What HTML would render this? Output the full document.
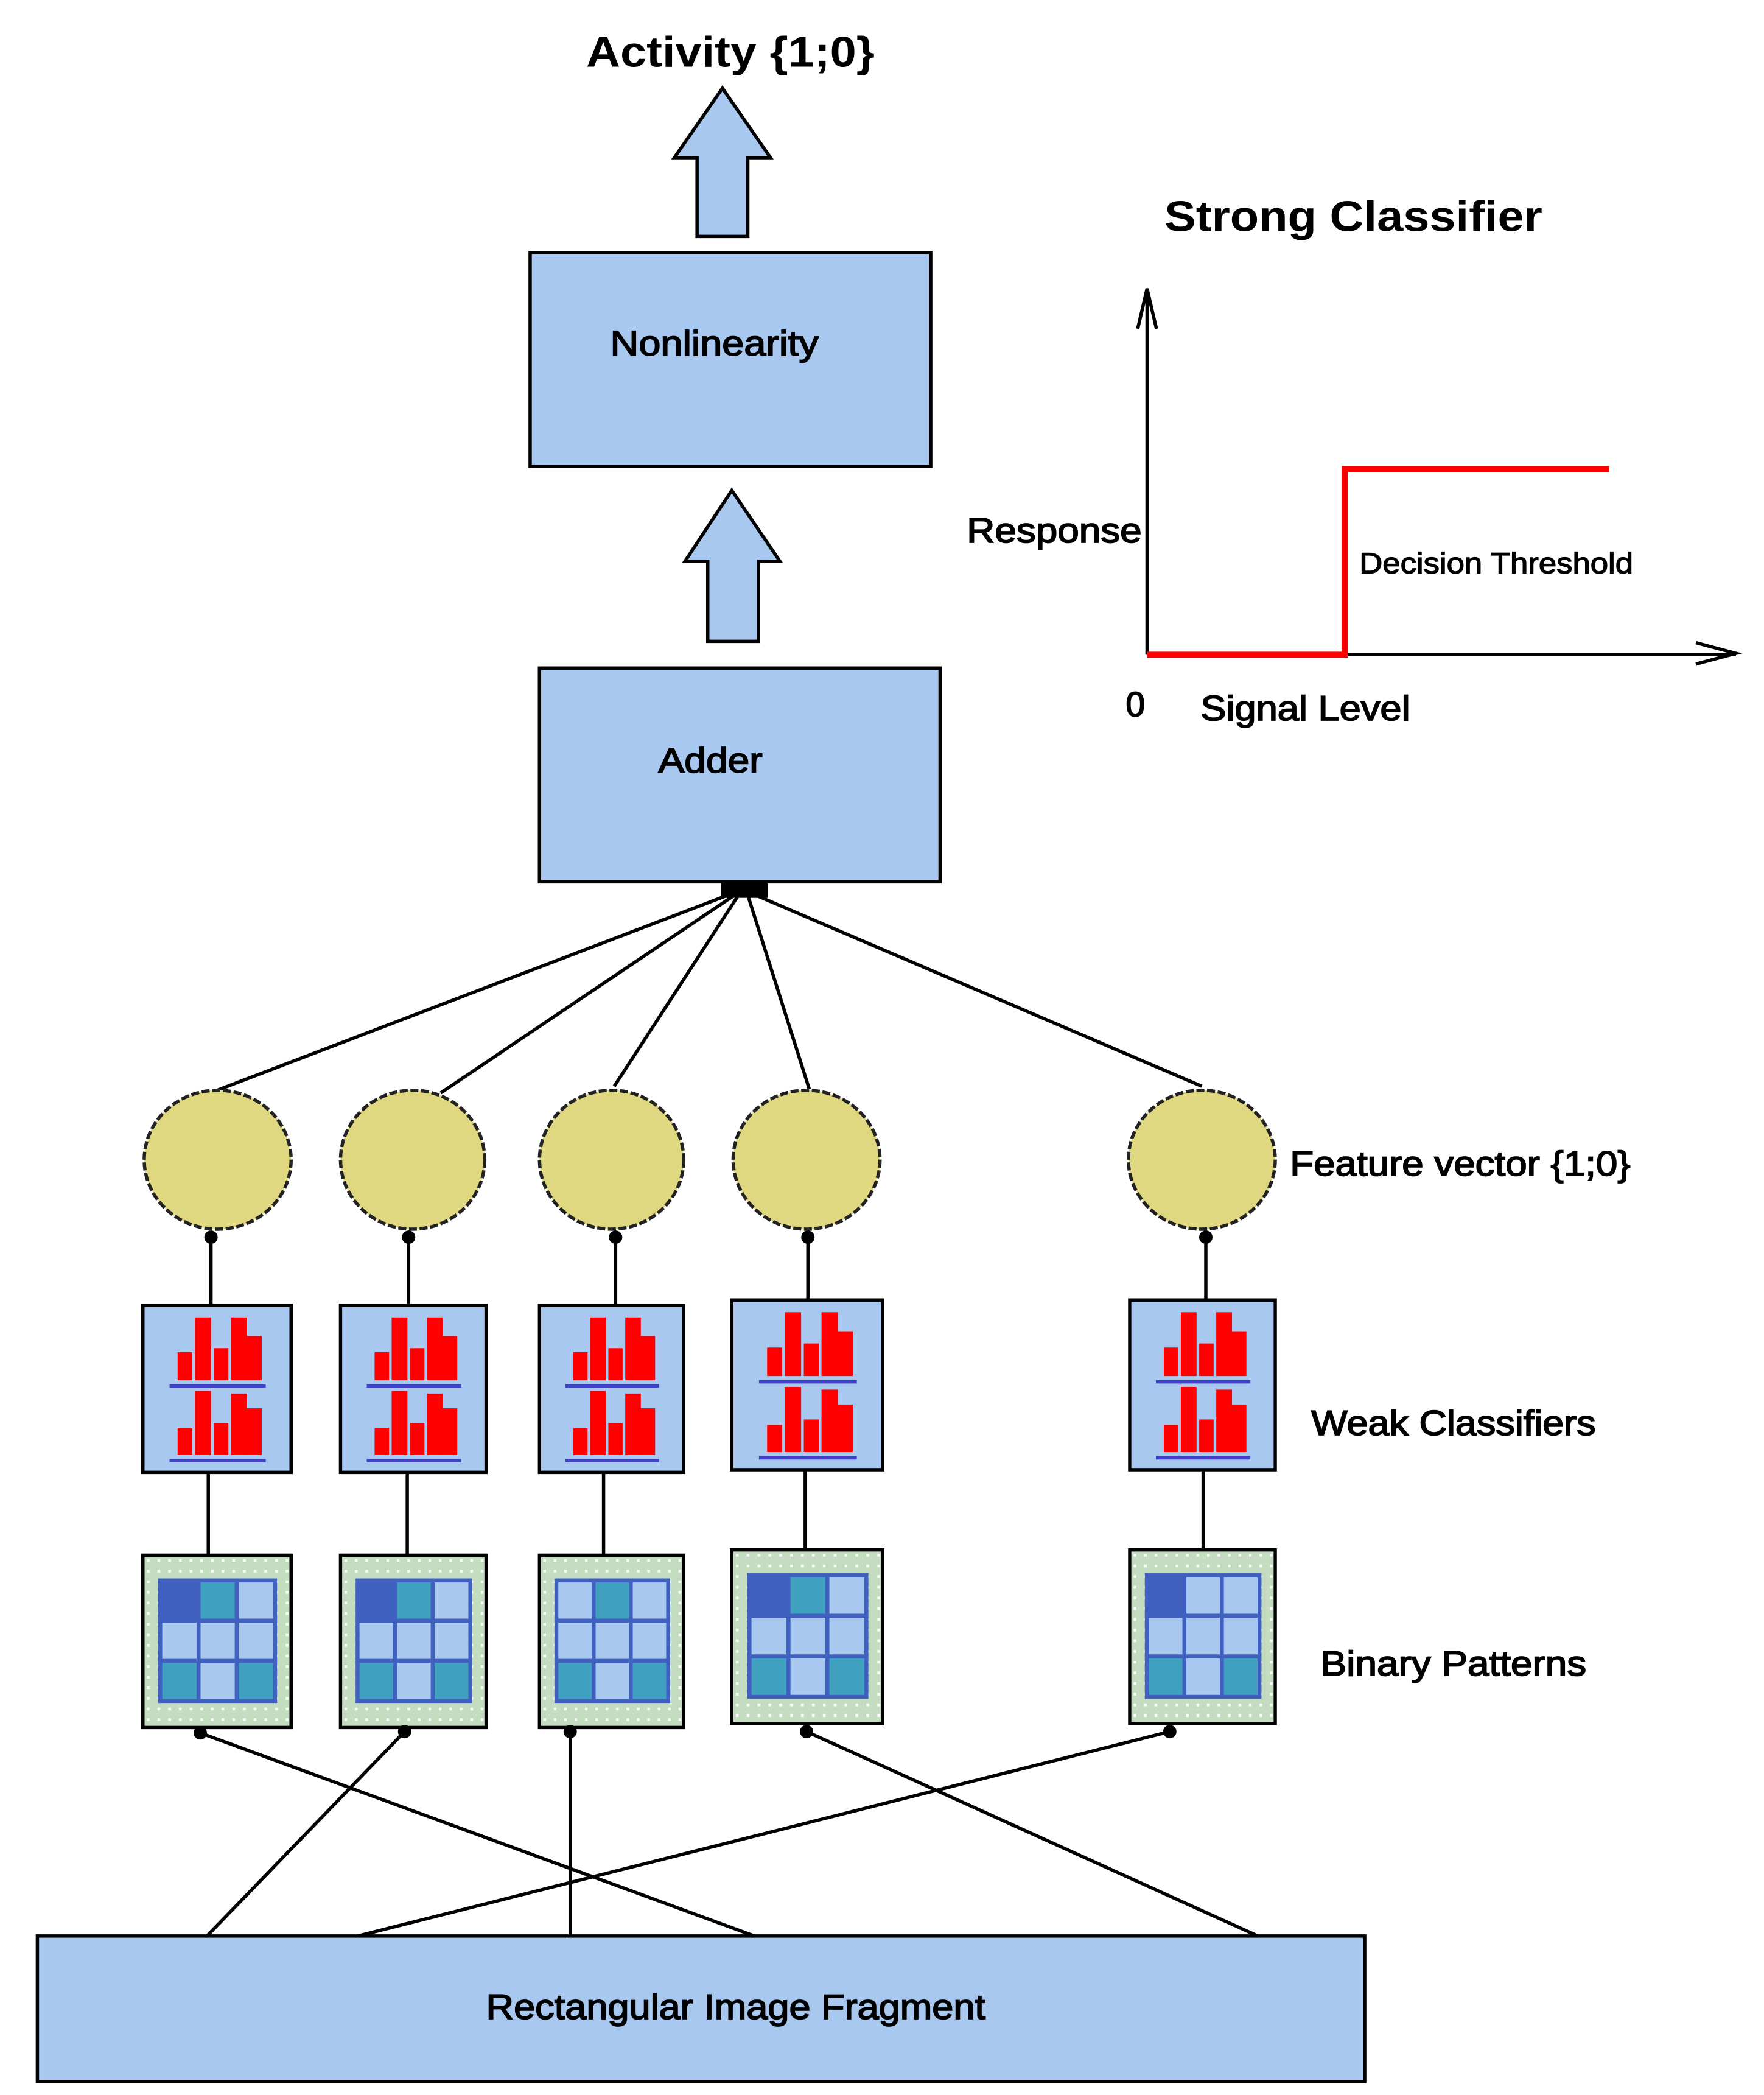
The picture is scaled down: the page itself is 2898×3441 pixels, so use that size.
<!DOCTYPE html>
<html><head><meta charset="utf-8"><style>
html,body{margin:0;padding:0;background:#fff;}
svg{display:block;}
text{font-family:"Liberation Sans",Arial,sans-serif;fill:#000;}
</style></head><body>
<svg width="2898" height="3441" viewBox="0 0 1321 1568" preserveAspectRatio="none" xmlns="http://www.w3.org/2000/svg">
<defs>
<pattern id="dots" width="8" height="8" patternUnits="userSpaceOnUse">
<rect width="8" height="8" fill="#c4dcc0"/><rect x="3" y="3" width="2" height="2" fill="#fff"/>
</pattern>
<g id="hist">
<rect x="0" y="0" width="111" height="125" fill="#a8c8f0" stroke="#000" stroke-width="2.5"/>
<g fill="#ff0000">
<rect x="26" y="35" width="11" height="21"/><rect x="39" y="9" width="12" height="47"/>
<rect x="53" y="32" width="11" height="24"/><rect x="66" y="9" width="12" height="47"/>
<rect x="77" y="23" width="12" height="33"/>
<rect x="26" y="92" width="11" height="20"/><rect x="39" y="64" width="12" height="48"/>
<rect x="53" y="88" width="11" height="24"/><rect x="66" y="66" width="12" height="46"/>
<rect x="77" y="77" width="12" height="35"/>
</g>
<rect x="20" y="59" width="72" height="2.5" fill="#4040c8"/>
<rect x="20" y="115" width="72" height="2.5" fill="#4040c8"/>
</g>
<g id="bpbox">
<rect x="0" y="0" width="111" height="130" fill="url(#dots)" stroke="#000" stroke-width="2.5"/>
<rect x="13" y="19" width="86" height="91" fill="#a8c8f0"/>
</g>
<g id="grid">
<rect x="13" y="19" width="86" height="91" fill="none" stroke="#4060c0" stroke-width="3"/>
<line x1="41.7" y1="19" x2="41.7" y2="110" stroke="#4060c0" stroke-width="3"/>
<line x1="70.3" y1="19" x2="70.3" y2="110" stroke="#4060c0" stroke-width="3"/>
<line x1="13" y1="49.3" x2="99" y2="49.3" stroke="#4060c0" stroke-width="3"/>
<line x1="13" y1="79.7" x2="99" y2="79.7" stroke="#4060c0" stroke-width="3"/>
</g>
<g id="tl-dark"><rect x="13" y="19" width="28.7" height="30.3" fill="#4060c0"/></g>
<g id="tm-teal"><rect x="41.7" y="19" width="28.6" height="30.3" fill="#40a0c0"/></g>
<g id="bl-teal"><rect x="13" y="79.7" width="28.7" height="30.3" fill="#40a0c0"/></g>
<g id="br-teal"><rect x="70.3" y="79.7" width="28.7" height="30.3" fill="#40a0c0"/></g>
</defs>

<text x="439" y="50" font-size="32" font-weight="bold" textLength="216" lengthAdjust="spacingAndGlyphs">Activity {1;0}</text>
<polygon points="541,66 577,118 560,118 560,177 522,177 522,118 505,118" fill="#a8c8f0" stroke="#000" stroke-width="2.5"/>
<rect x="397" y="189" width="300" height="160" fill="#a8c8f0" stroke="#000" stroke-width="2.5"/>
<text x="457" y="266" font-size="26" textLength="156" lengthAdjust="spacingAndGlyphs" stroke="#000" stroke-width="0.8">Nonlinearity</text>
<polygon points="548,367 584,420 568,420 568,480 530,480 530,420 513,420" fill="#a8c8f0" stroke="#000" stroke-width="2.5"/>
<rect x="404" y="500" width="300" height="160" fill="#a8c8f0" stroke="#000" stroke-width="2.5"/>
<text x="493" y="578" font-size="26" textLength="78" lengthAdjust="spacingAndGlyphs" stroke="#000" stroke-width="0.8">Adder</text>
<rect x="540" y="659" width="35" height="13" fill="#000"/>

<g stroke="#000" stroke-width="2.5" fill="none">
<line x1="545" y1="670" x2="160" y2="817"/>
<line x1="550" y1="670" x2="330" y2="818"/>
<line x1="553" y1="670" x2="460" y2="813"/>
<line x1="560" y1="670" x2="606" y2="815"/>
<line x1="566" y1="670" x2="900" y2="813"/>
</g>

<text x="872" y="173" font-size="32" font-weight="bold" textLength="283" lengthAdjust="spacingAndGlyphs">Strong Classifier</text>
<g stroke="#000" stroke-width="2.5" fill="none">
<line x1="859" y1="490" x2="859" y2="216"/>
<polyline points="852,246 859,216 866,246"/>
<line x1="859" y1="490" x2="1300" y2="490"/>
<polyline points="1270,481 1300,489 1270,497"/>
</g>
<polyline points="859,490 1007,490 1007,351 1205,351" fill="none" stroke="#ff0000" stroke-width="4.5"/>
<text x="724" y="406" font-size="26" textLength="131" lengthAdjust="spacingAndGlyphs" stroke="#000" stroke-width="0.8">Response</text>
<text x="1018" y="429" font-size="22" textLength="205" lengthAdjust="spacingAndGlyphs" stroke="#000" stroke-width="0.6">Decision Threshold</text>
<text x="843" y="536" font-size="26" stroke="#000" stroke-width="0.8">0</text>
<text x="899" y="539" font-size="26" textLength="157" lengthAdjust="spacingAndGlyphs" stroke="#000" stroke-width="0.8">Signal Level</text>

<g fill="#e0d880" stroke="#222" stroke-width="2.5" stroke-dasharray="6 2">
<ellipse cx="163" cy="868" rx="55" ry="52"/>
<ellipse cx="309" cy="868" rx="54" ry="52"/>
<ellipse cx="458" cy="868" rx="54" ry="52"/>
<ellipse cx="604" cy="868" rx="55" ry="52"/>
<ellipse cx="900" cy="868" rx="55" ry="52"/>
</g>
<g fill="#000">
<circle cx="158" cy="926" r="5"/><circle cx="306" cy="926" r="5"/><circle cx="461" cy="926" r="5"/><circle cx="605" cy="926" r="5"/><circle cx="903" cy="926" r="5"/>
</g>
<g stroke="#000" stroke-width="2.5">
<line x1="158" y1="926" x2="158" y2="977"/>
<line x1="306" y1="926" x2="306" y2="977"/>
<line x1="461" y1="926" x2="461" y2="977"/>
<line x1="605" y1="926" x2="605" y2="973"/>
<line x1="903" y1="926" x2="903" y2="973"/>
<line x1="156" y1="1102" x2="156" y2="1164"/>
<line x1="305" y1="1102" x2="305" y2="1164"/>
<line x1="452" y1="1102" x2="452" y2="1164"/>
<line x1="603" y1="1100" x2="603" y2="1160"/>
<line x1="901" y1="1100" x2="901" y2="1160"/>
</g>
<text x="966" y="880" font-size="26" textLength="255" lengthAdjust="spacingAndGlyphs" stroke="#000" stroke-width="0.8">Feature vector {1;0}</text>

<use href="#hist" transform="translate(107,977)"/>
<use href="#hist" transform="translate(255,977) scale(0.982,1)"/>
<use href="#hist" transform="translate(404,977) scale(0.973,1)"/>
<use href="#hist" transform="translate(548,973) scale(1.018,1.016)"/>
<use href="#hist" transform="translate(846,973) scale(0.982,1.016)"/>
<text x="982" y="1074" font-size="26" textLength="213" lengthAdjust="spacingAndGlyphs" stroke="#000" stroke-width="0.8">Weak Classifiers</text>

<g transform="translate(107,1164) scale(1,0.992)">
<use href="#bpbox"/><use href="#tl-dark"/><use href="#tm-teal"/><use href="#bl-teal"/><use href="#br-teal"/><use href="#grid"/>
</g>
<g transform="translate(255,1164) scale(0.982,0.992)">
<use href="#bpbox"/><use href="#tl-dark"/><use href="#tm-teal"/><use href="#bl-teal"/><use href="#br-teal"/><use href="#grid"/>
</g>
<g transform="translate(404,1164) scale(0.973,0.992)">
<use href="#bpbox"/><use href="#tm-teal"/><use href="#bl-teal"/><use href="#br-teal"/><use href="#grid"/>
</g>
<g transform="translate(548,1160) scale(1.018,1)">
<use href="#bpbox"/><use href="#tl-dark"/><use href="#tm-teal"/><use href="#bl-teal"/><use href="#br-teal"/><use href="#grid"/>
</g>
<g transform="translate(846,1160) scale(0.982,1)">
<use href="#bpbox"/><use href="#tl-dark"/><use href="#bl-teal"/><use href="#br-teal"/><use href="#grid"/>
</g>
<text x="989" y="1254" font-size="26" textLength="199" lengthAdjust="spacingAndGlyphs" stroke="#000" stroke-width="0.8">Binary Patterns</text>

<g fill="#000">
<circle cx="150" cy="1297" r="5"/><circle cx="303" cy="1296" r="5"/><circle cx="427" cy="1296" r="5"/><circle cx="604" cy="1296" r="5"/><circle cx="876" cy="1296" r="5"/>
</g>
<g stroke="#000" stroke-width="2.5">
<line x1="150" y1="1297" x2="565" y2="1449"/>
<line x1="303" y1="1296" x2="155" y2="1449"/>
<line x1="427" y1="1296" x2="427" y2="1449"/>
<line x1="604" y1="1296" x2="942" y2="1449"/>
<line x1="876" y1="1296" x2="268" y2="1449"/>
</g>
<rect x="28" y="1449" width="994" height="109" fill="#a8c8f0" stroke="#000" stroke-width="2.5"/>
<text x="364" y="1511" font-size="26" textLength="374" lengthAdjust="spacingAndGlyphs" stroke="#000" stroke-width="0.8">Rectangular Image Fragment</text>
</svg>
</body></html>
